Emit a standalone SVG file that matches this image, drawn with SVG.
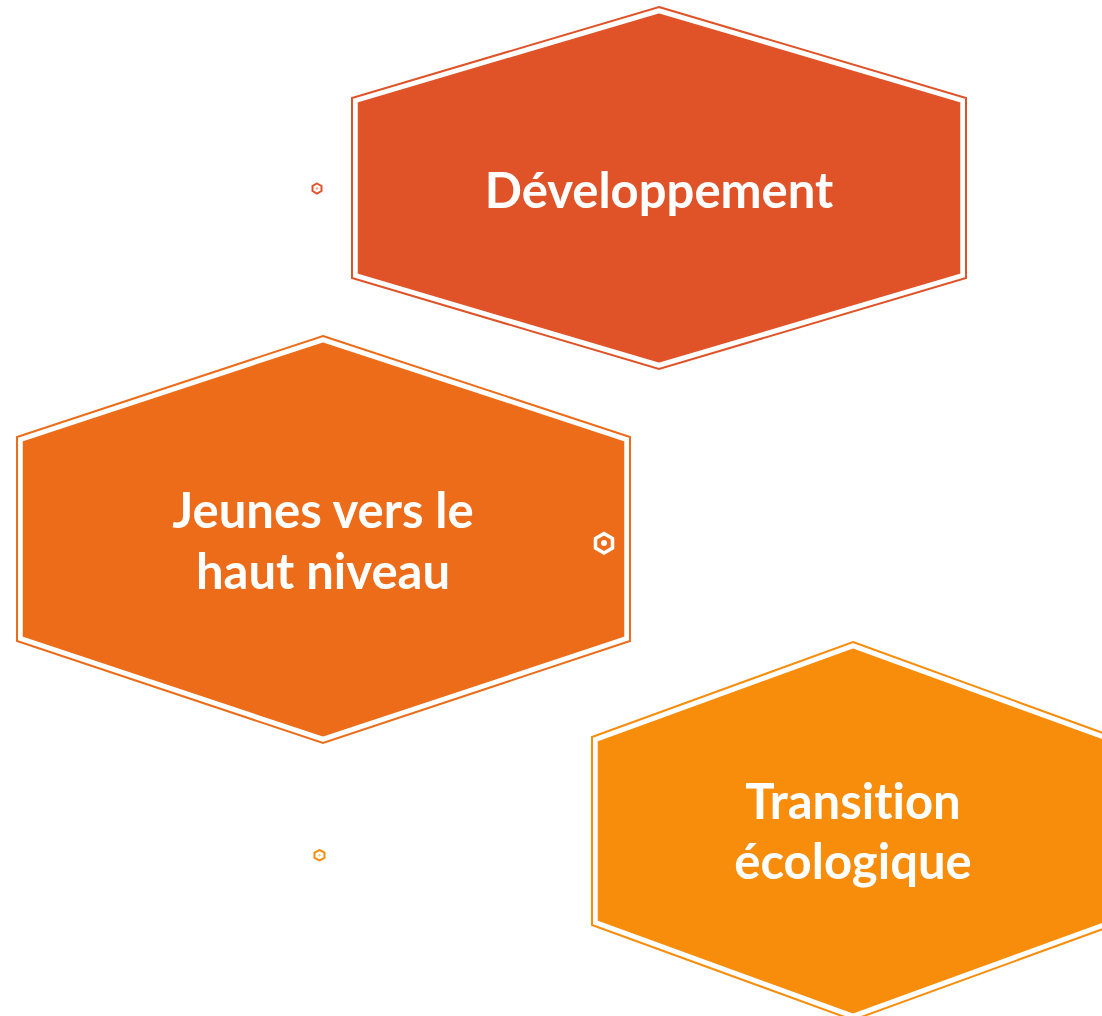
<svg xmlns="http://www.w3.org/2000/svg" width="1102" height="1016" viewBox="0 0 1102 1016">
<style>
.outer{fill:none;stroke-width:2}
.inner{stroke:#FFFFFF;stroke-width:3.5}
.lbl{font-family:Lato,"Open Sans",sans-serif;font-weight:bold;font-size:49px;fill:#FFFFFF;text-anchor:middle;font-variant-ligatures:none;font-feature-settings:"liga" 0}
</style>
<rect width="1102" height="1016" fill="#FFFFFF"/>
<g id="node-developpement">
<polygon class="outer" stroke="#E05328" points="659,7 966,98 966,278 659,369 352,278 352,98"/>
<polygon class="inner" fill="#E05328" points="659,11.5 962,101 962,275 659,364.5 356,275 356,101"/>
<text class="lbl" x="659" y="208">Développement</text>
</g>
<g id="node-jeunes">
<polygon class="outer" stroke="#EC6C19" points="323,336 630,437 630,641 323,743 17,641 17,437"/>
<polygon class="inner" fill="#EC6C19" points="323,340.5 626,440 626,638 323,738.5 21,638 21,440"/>
<text class="lbl" x="323" y="528">Jeunes vers le</text>
<text class="lbl" x="323" y="589">haut niveau</text>
</g>
<g id="node-transition">
<polygon class="outer" stroke="#F78D0B" points="853,642 1114,737 1114,925 853,1020 592,925 592,737"/>
<polygon class="inner" fill="#F78D0B" points="853,646.5 1110,740 1110,922 853,1015.5 596,922 596,740"/>
<text class="lbl" x="853" y="819">Transition</text>
<text class="lbl" x="853" y="879">écologique</text>
</g>
<g id="deco-hex-1">
<polygon points="317,183.5 321.5,186 321.5,191 317,193.5 312.5,191 312.5,186" fill="#FFFFFF" stroke="#E05328" stroke-width="2"/>
<circle cx="317" cy="188.5" r="1.2" fill="#F2A98F"/>
</g>
<g id="deco-hex-2">
<polygon points="604,533.5 612.5,538.5 612.5,548 604,553 595.5,548 595.5,538.5" fill="none" stroke="#FFFFFF" stroke-width="3.5"/>
<circle cx="604" cy="543" r="3" fill="#FFFFFF"/>
</g>
<g id="deco-hex-3">
<polygon points="319.5,850 324.5,852.5 324.5,858 319.5,860.5 314.5,858 314.5,852.5" fill="#FFFFFF" stroke="#F78D0B" stroke-width="2"/>
<circle cx="319.5" cy="855.2" r="1.2" fill="#FBC98A"/>
</g>
<g id="connectors"/>
</svg>
